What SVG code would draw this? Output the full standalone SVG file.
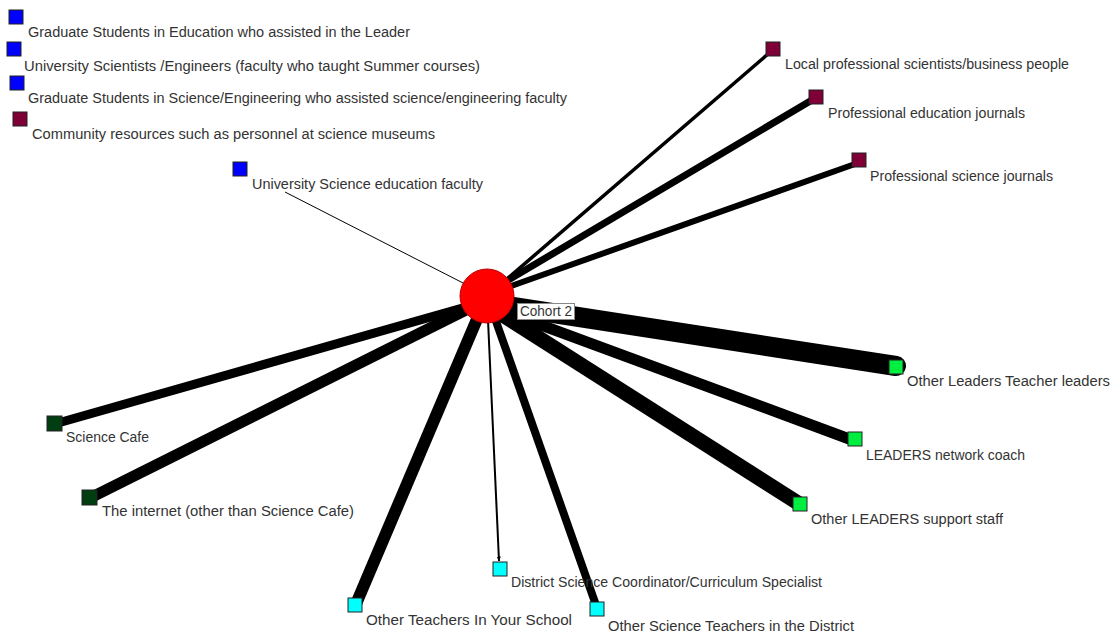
<svg xmlns="http://www.w3.org/2000/svg" width="1112" height="634" viewBox="0 0 1112 634">
<style>
  .lbl { font-family: "Liberation Sans", Arial, sans-serif; font-size: 14px; fill: #333; }
  .e { stroke: #000; fill: none; }
  .n { stroke: #222; stroke-width: 1; }
  .blue { fill: #0000ff; }
  .maroon { fill: #7f0037; }
  .lime { fill: #00ee40; }
  .dgreen { fill: #003d10; }
  .cyan { fill: #00ffff; }
</style>
<defs>
  <marker id="arr" viewBox="0 0 10 10" refX="9" refY="5" markerWidth="5" markerHeight="5" orient="auto" markerUnits="userSpaceOnUse">
    <path d="M0,1 L10,5 L0,9 z" fill="#000"/>
  </marker>
</defs>
<rect width="1112" height="634" fill="#fff"/>
<g id="connectors">
  <line class="e" x1="285" y1="192" x2="465" y2="284" stroke="#444" stroke-width="1"/>
  <line class="e" x1="500" y1="285" x2="768" y2="54" stroke-width="3.5"/>
  <line class="e" x1="500" y1="285" x2="812" y2="100" stroke-width="7"/>
  <line class="e" x1="500" y1="290" x2="855" y2="164" stroke-width="6"/>
  <line class="e" x1="487" y1="303" x2="896" y2="366" stroke-width="20" stroke-linecap="round"/>
  <line class="e" x1="487" y1="305" x2="852" y2="440" stroke-width="11"/>
  <line class="e" x1="487" y1="305" x2="798" y2="503" stroke-width="15"/>
  <line class="e" x1="480" y1="303" x2="58" y2="423" stroke-width="9"/>
  <line class="e" x1="480" y1="303" x2="92" y2="497" stroke-width="11"/>
  <line class="e" x1="483" y1="305" x2="356" y2="604" stroke-width="12"/>
  <line class="e" x1="488" y1="320" x2="499" y2="561" stroke-width="2" marker-end="url(#arr)"/>
  <line class="e" x1="492" y1="310" x2="597" y2="608" stroke-width="8"/>
</g>
<g id="cohort2">
  <circle cx="487" cy="296" r="27" fill="#ff0000" stroke="#b00" stroke-width="1"/>
  <rect x="517.5" y="303.5" width="57" height="16" fill="#fff" stroke="#888" stroke-width="1"/>
  <text class="lbl" x="520" y="316" font-size="15" textLength="52" lengthAdjust="spacingAndGlyphs" fill="#445">Cohort 2</text>
</g>
<g id="n-grad-ed">
  <rect class="n blue" x="9" y="10" width="14" height="14"/>
  <text class="lbl" x="28" y="37" textLength="382" lengthAdjust="spacingAndGlyphs">Graduate Students in Education who assisted in the Leader</text>
</g>
<g id="n-univ-sci">
  <rect class="n blue" x="7" y="42" width="14" height="14"/>
  <text class="lbl" x="24" y="71" textLength="456" lengthAdjust="spacingAndGlyphs">University Scientists /Engineers (faculty who taught Summer courses)</text>
</g>
<g id="n-grad-sci">
  <rect class="n blue" x="10" y="76" width="14" height="14"/>
  <text class="lbl" x="28" y="103" textLength="539" lengthAdjust="spacingAndGlyphs">Graduate Students in Science/Engineering who assisted science/engineering faculty</text>
</g>
<g id="n-community">
  <rect class="n maroon" x="13" y="112" width="14" height="14"/>
  <text class="lbl" x="32" y="139" textLength="403" lengthAdjust="spacingAndGlyphs">Community resources such as personnel at science museums</text>
</g>
<g id="n-univ-sci-ed">
  <rect class="n blue" x="233" y="162" width="14" height="14"/>
  <text class="lbl" x="252" y="189" textLength="231" lengthAdjust="spacingAndGlyphs">University Science education faculty</text>
</g>
<g id="n-local-prof">
  <rect class="n maroon" x="766" y="42" width="14" height="14"/>
  <text class="lbl" x="785" y="69" textLength="284" lengthAdjust="spacingAndGlyphs">Local professional scientists/business people</text>
</g>
<g id="n-prof-ed">
  <rect class="n maroon" x="809" y="90" width="14" height="14"/>
  <text class="lbl" x="828" y="118" textLength="197" lengthAdjust="spacingAndGlyphs">Professional education journals</text>
</g>
<g id="n-prof-sci">
  <rect class="n maroon" x="852" y="153" width="14" height="14"/>
  <text class="lbl" x="870" y="181" textLength="183" lengthAdjust="spacingAndGlyphs">Professional science journals</text>
</g>
<g id="n-other-leaders">
  <rect class="n lime" x="889" y="360" width="14" height="14"/>
  <text class="lbl" x="907" y="386" textLength="203" lengthAdjust="spacingAndGlyphs">Other Leaders Teacher leaders</text>
</g>
<g id="n-coach">
  <rect class="n lime" x="848" y="432" width="14" height="14"/>
  <text class="lbl" x="866" y="460" textLength="159" lengthAdjust="spacingAndGlyphs">LEADERS network coach</text>
</g>
<g id="n-support">
  <rect class="n lime" x="793" y="497" width="14" height="14"/>
  <text class="lbl" x="811" y="524" textLength="192" lengthAdjust="spacingAndGlyphs">Other LEADERS support staff</text>
</g>
<g id="n-science-cafe">
  <rect class="n dgreen" x="47" y="416" width="15" height="15"/>
  <text class="lbl" x="66" y="442" textLength="83" lengthAdjust="spacingAndGlyphs">Science Cafe</text>
</g>
<g id="n-internet">
  <rect class="n dgreen" x="82" y="490" width="15" height="15"/>
  <text class="lbl" x="102" y="516" textLength="252" lengthAdjust="spacingAndGlyphs">The internet (other than Science Cafe)</text>
</g>
<g id="n-district-coord">
  <rect class="n cyan" x="493" y="562" width="14" height="14"/>
  <text class="lbl" x="511" y="587" textLength="311" lengthAdjust="spacingAndGlyphs">District Science Coordinator/Curriculum Specialist</text>
</g>
<g id="n-teachers-school">
  <rect class="n cyan" x="348" y="598" width="14" height="14"/>
  <text class="lbl" x="366" y="625" textLength="206" lengthAdjust="spacingAndGlyphs">Other Teachers In Your School</text>
</g>
<g id="n-sci-teachers-district">
  <rect class="n cyan" x="590" y="602" width="14" height="14"/>
  <text class="lbl" x="608" y="631" textLength="246" lengthAdjust="spacingAndGlyphs">Other Science Teachers in the District</text>
</g>
</svg>
